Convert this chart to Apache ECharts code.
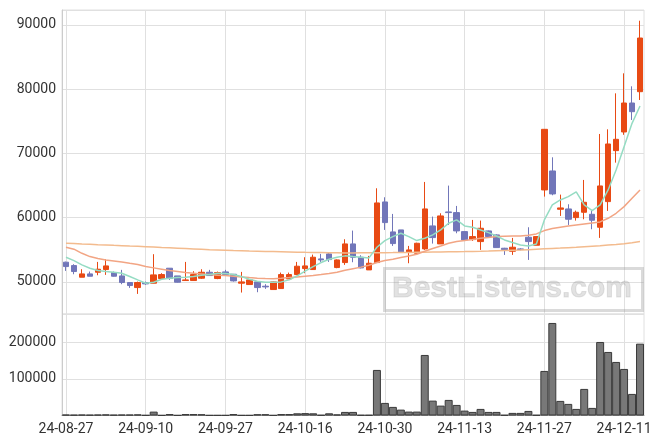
<!DOCTYPE html>
<html>
<head>
<meta charset="utf-8">
<script src="https://cdn.jsdelivr.net/npm/echarts@6/dist/echarts.min.js"></script>
<style>html,body{margin:0;padding:0;background:#fff}#c{width:663px;height:444px}</style>
</head>
<body>
<div id="c"></div>
<script>
var categories = ["24-08-27","24-08-28","24-08-29","24-08-30","24-09-02","24-09-03","24-09-04","24-09-05","24-09-06","24-09-09",
"24-09-10","24-09-11","24-09-12","24-09-13","24-09-19","24-09-20","24-09-23","24-09-24","24-09-25","24-09-26",
"24-09-27","24-09-30","24-10-02","24-10-04","24-10-07","24-10-08","24-10-10","24-10-11","24-10-14","24-10-15",
"24-10-16","24-10-17","24-10-18","24-10-21","24-10-22","24-10-23","24-10-24","24-10-25","24-10-28","24-10-29",
"24-10-30","24-10-31","24-11-01","24-11-04","24-11-05","24-11-06","24-11-07","24-11-08","24-11-11","24-11-12",
"24-11-13","24-11-14","24-11-15","24-11-18","24-11-19","24-11-20","24-11-21","24-11-22","24-11-25","24-11-26",
"24-11-27","24-11-28","24-11-29","24-12-02","24-12-03","24-12-04","24-12-05","24-12-06","24-12-09","24-12-10",
"24-12-11","24-12-12","24-12-13"];

var opens = [53065,52540,50725,51245,51500,51920,51450,50930,49900,49115,
49900,49795,50520,52130,50930,50210,50210,50570,51500,50520,
51556,51190,49795,49585,50000,49326,48807,48960,50465,51140,
52075,51920,53580,54360,52230,53007,55912,53837,51866,53007,
62447,57779,58090,54615,54460,55134,58713,55912,60891,60788,
57831,56586,56275,57935,57313,55237,54770,55133,56949,55704,
64314,67270,61305,61357,60009,60839,60527,58505,62498,70435,
73340,77850,79610];
var closes = [52385,51610,51245,50880,51970,52490,50880,49900,49430,49900,
49690,51090,51140,50520,49950,50310,51140,51500,50985,51450,
51140,50155,50000,50310,49115,49220,50000,51140,51140,52440,
52490,53840,53420,53470,53420,55912,53837,52177,52903,62292,
59231,55964,54667,54978,56015,61358,56898,60269,60788,57935,
56534,57053,58350,57053,55341,55030,55393,55030,56275,57052,
73754,63691,61513,59750,60839,62395,59594,64936,71472,72198,
77850,76500,87966];
var lows = [51710,51190,50725,50880,51035,51090,50830,49640,49065,48130,
49535,49795,50520,50310,49900,50210,50210,50465,50985,50420,
51040,50050,48340,49585,48390,48910,48807,48910,50465,51040,
51350,51870,53110,53110,52130,52644,53059,52100,51866,53007,
58090,55600,54667,52903,54460,54978,55964,55912,58868,57572,
56534,56378,54978,57053,55341,54199,54199,54926,53421,55704,
63277,63484,60268,58868,59542,59750,58194,56845,61046,68567,
72900,75207,78320];
var highs = [53150,52750,51970,51610,53110,53530,51610,51870,49900,50050,
50050,54310,51350,52130,50930,53110,51660,51970,51870,51610,
51870,51190,51556,50360,50050,49640,50050,51450,51450,53110,
53840,54250,54360,54500,53500,56638,57987,54148,54044,64574,
63174,60580,58090,55600,56100,65560,60165,60684,64990,61825,
57831,59646,59543,58000,57400,55300,56845,55237,58505,57100,
73800,69397,63588,62084,61098,65870,61098,73028,73754,79356,
82470,80450,90660];
var volumes = [2500,2000,2500,2000,2500,3000,2000,2500,2500,3000,
1000,10600,800,4000,800,4000,4000,3500,800,800,
800,4000,800,800,3500,3500,800,4000,4000,6000,
6500,6000,1500,6000,3000,9800,9800,1500,1500,124600,
34400,23500,16100,10700,10700,165500,40700,27000,42600,28900,
13400,9800,18000,9800,9800,1500,7100,7100,12500,1500,
121800,253000,39900,31700,18000,72700,20800,201000,173700,146400,
127300,59000,196400];
var ma5 = [53840,53310,52645,52130,51760,51610,51500,51350,50830,50310,
49795,49950,50415,50570,50670,50725,50830,51035,51140,51350,
51300,51140,50830,50415,50100,49950,49950,50000,50310,50930,
51660,52385,53010,53530,53840,54050,53940,53837,53733,55393,
56430,57053,57572,57053,56430,56794,57313,58090,59127,59646,
58713,58505,58090,57675,57150,56534,56120,55756,55600,55911,
59646,61980,62757,63276,64003,61980,61098,61980,64314,67427,
71057,74688,77385];
var ma20 = [55400,55090,54450,53940,53630,53420,53270,53110,52900,52700,
52385,52180,51970,51760,51610,51450,51350,51245,51140,51035,
50985,50880,50775,50670,50570,50520,50500,50570,50670,50775,
50880,50985,51140,51300,51500,51800,52050,52300,52600,53007,
53318,53526,53785,54044,54304,54770,55186,55600,56015,56275,
56430,56586,56794,56898,57053,57100,57150,57150,57260,57467,
57986,58297,58505,58713,58868,59024,59179,59335,59905,60683,
61720,63018,64314];
var ma60 = [56020,55970,55910,55860,55800,55750,55690,55640,55580,55530,
55480,55420,55360,55310,55250,55190,55130,55070,55000,54960,
54920,54880,54850,54810,54780,54750,54720,54690,54660,54630,
54600,54580,54560,54540,54520,54500,54510,54520,54530,54540,
54550,54560,54580,54590,54610,54620,54640,54660,54680,54700,
54720,54750,54770,54800,54840,54880,54920,54960,55020,55080,
55140,55200,55260,55330,55400,55480,55560,55640,55730,55820,
55920,56090,56280];
var priceTicks = [50000,60000,70000,80000,90000];
var volumeTicks = [100000,200000];

var candleData = categories.map(function(_, i){ return [opens[i], closes[i], lows[i], highs[i]]; });

var chart = echarts.init(document.getElementById('c'), null, {renderer:'canvas'});
var lbl = {fontFamily:'Roboto', fontSize:14, color:'#333'};
var gridLine = '#e0e0e0';
chart.setOption({
  animation:false,
  backgroundColor:'#fff',
  grid:[
    {left:62, right:19, top:10, height:304, show:true, borderColor:gridLine, borderWidth:1},
    {left:62, right:19, top:314, height:101.5, show:true, borderColor:gridLine, borderWidth:1}
  ],
  xAxis:[
    {type:'category', gridIndex:0, data:categories, boundaryGap:true,
     axisLabel:{show:false}, axisTick:{show:false}, axisLine:{show:false},
     splitLine:{show:true, interval:9, alignWithLabel:true, lineStyle:{color:gridLine}}},
    {type:'category', gridIndex:1, data:categories, boundaryGap:true,
     axisLabel:Object.assign({interval:9, margin:7}, lbl), axisTick:{show:false},
     axisLine:{show:true, lineStyle:{color:'#999'}},
     splitLine:{show:true, interval:9, alignWithLabel:true, lineStyle:{color:gridLine}}}
  ],
  yAxis:[
    {type:'value', gridIndex:0, min:45000, max:92330,
     axisLabel:Object.assign({showMinLabel:false, showMaxLabel:false, margin:6,
       formatter:function(v){ return priceTicks.indexOf(v) >= 0 ? String(v) : ''; }}, lbl),
     axisLine:{show:true, lineStyle:{color:'#ccc'}}, axisTick:{show:false},
     splitLine:{lineStyle:{color:gridLine}}},
    {type:'value', gridIndex:1, min:0, max:277500, interval:100000,
     axisLabel:Object.assign({showMinLabel:false, showMaxLabel:false, margin:6,
       formatter:function(v){ return volumeTicks.indexOf(v) >= 0 ? String(v) : ''; }}, lbl),
     axisLine:{show:true, lineStyle:{color:'#ccc'}}, axisTick:{show:false},
     splitLine:{lineStyle:{color:gridLine}}}
  ],
  graphic:[
    {type:'rect', left:383, top:267, z:1, shape:{width:258, height:42},
     style:{fill:'rgba(0,0,0,0)', stroke:'rgba(150,150,150,0.35)', lineWidth:3}},
    {type:'text', x:512, y:289, z:1,
     style:{text:'BestListens.com', fontFamily:'Liberation Sans', fontWeight:'bold', fontSize:30,
       fill:'rgba(150,150,150,0.28)', stroke:'rgba(120,120,120,0.18)', lineWidth:1,
       textAlign:'center', textVerticalAlign:'middle'}}
  ],
  series:[
    {type:'candlestick', xAxisIndex:0, yAxisIndex:0, data:candleData, barWidth:6,
     itemStyle:{color:'#e84a14', color0:'#7176b9', borderColor:'#e84a14', borderColor0:'#7176b9', borderWidth:1}},
    {type:'line', xAxisIndex:0, yAxisIndex:0, data:ma60, symbol:'none', lineStyle:{color:'#f3bb8e', width:1.5}},
    {type:'line', xAxisIndex:0, yAxisIndex:0, data:ma20, symbol:'none', lineStyle:{color:'#f2a584', width:1.5}},
    {type:'line', xAxisIndex:0, yAxisIndex:0, data:ma5, symbol:'none', lineStyle:{color:'#95dcc3', width:1.5}},
    {type:'bar', xAxisIndex:1, yAxisIndex:1, data:volumes, barWidth:'100%',
     itemStyle:{color:'#787878', borderColor:'#3a3a3a', borderWidth:1}}
  ]
});
</script>
</body>
</html>
